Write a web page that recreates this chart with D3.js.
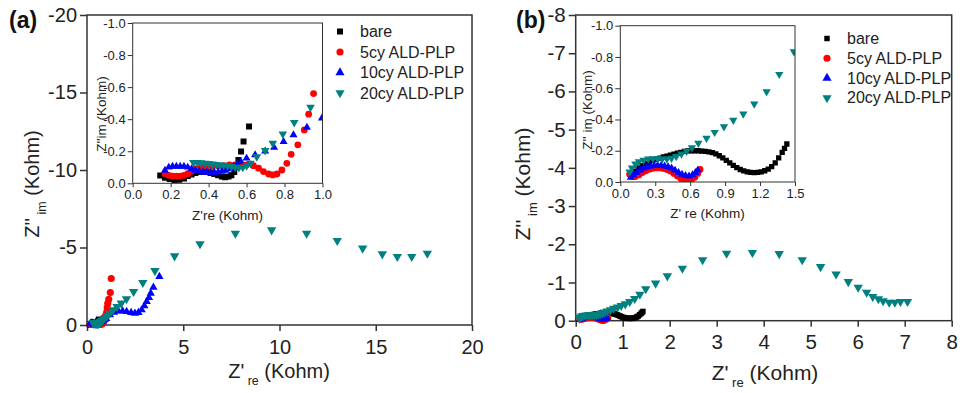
<!DOCTYPE html>
<html>
<head>
<meta charset="utf-8">
<script src="https://cdn.jsdelivr.net/npm/d3@7"></script>
<style>
body { margin: 0; background: #fff; }
svg { display: block; font-family: "Liberation Sans", Arial, sans-serif; }
</style>
</head>
<body>
<div id="app"></div>
<script>
// legend / series
const seriesNames = ['bare', '5cy ALD-PLP', '10cy ALD-PLP', '20cy ALD-PLP']
const seriesColors = ['#000000', '#ff0000', '#0000ff', '#008080']
const seriesShapes = ['square', 'circle', 'triangle', 'triangleDown']

// panel (a) data, [Z're, Z''im] in kohm
const a_bare = [[0.145,-0.048],[0.17,-0.035],[0.195,-0.027],[0.22,-0.02],[0.245,-0.022],[0.27,-0.03],[0.29,-0.045],[0.31,-0.055],[0.33,-0.065],[0.35,-0.07],[0.37,-0.072],[0.39,-0.07],[0.41,-0.065],[0.43,-0.058],[0.45,-0.05],[0.47,-0.042],[0.487,-0.038],[0.505,-0.042],[0.52,-0.05],[0.535,-0.07],[0.548,-0.1],[0.557,-0.146],[0.571,-0.198],[0.584,-0.26],[0.613,-0.354]]
const a_5cy = [[0.17,-0.06],[0.19,-0.05],[0.21,-0.045],[0.23,-0.045],[0.25,-0.045],[0.27,-0.05],[0.29,-0.06],[0.31,-0.075],[0.33,-0.09],[0.36,-0.1],[0.39,-0.105],[0.42,-0.105],[0.45,-0.11],[0.48,-0.11],[0.51,-0.115],[0.54,-0.115],[0.57,-0.115],[0.60,-0.115],[0.636,-0.11],[0.663,-0.094],[0.689,-0.073],[0.716,-0.058],[0.738,-0.052],[0.76,-0.058],[0.786,-0.083],[0.812,-0.125],[0.835,-0.181],[0.87,-0.24],[0.904,-0.333],[0.927,-0.431],[0.953,-0.56],[1.02,-0.82],[1.05,-1.12],[1.08,-1.4],[1.13,-1.66],[1.21,-2.09],[1.26,-3.0]]
const a_10cy = [[0.17,-0.08],[0.19,-0.1],[0.21,-0.105],[0.23,-0.105],[0.25,-0.105],[0.27,-0.105],[0.29,-0.1],[0.31,-0.09],[0.33,-0.08],[0.35,-0.075],[0.37,-0.07],[0.39,-0.068],[0.41,-0.068],[0.43,-0.068],[0.45,-0.07],[0.47,-0.075],[0.49,-0.08],[0.51,-0.09],[0.53,-0.105],[0.55,-0.12],[0.57,-0.135],[0.6,-0.156],[0.645,-0.177],[0.698,-0.2],[0.745,-0.223],[0.795,-0.26],[0.847,-0.302],[0.918,-0.348],[0.997,-0.406],[1.19,-0.65],[1.40,-0.82],[1.63,-0.9],[1.85,-0.9],[2.06,-0.86],[2.29,-0.8],[2.49,-0.75],[2.67,-0.8],[2.84,-0.97],[2.98,-1.23],[3.10,-1.51],[3.22,-1.76],[3.31,-2.04],[3.45,-2.43],[3.76,-3.12]]
const a_20cy = [[0.32,-0.13],[0.34,-0.13],[0.36,-0.128],[0.38,-0.125],[0.40,-0.123],[0.42,-0.12],[0.44,-0.118],[0.46,-0.115],[0.48,-0.113],[0.50,-0.11],[0.52,-0.105],[0.54,-0.1],[0.56,-0.098],[0.58,-0.1],[0.60,-0.11],[0.62,-0.125],[0.654,-0.166],[0.698,-0.204],[0.738,-0.25],[0.791,-0.308],[0.851,-0.379],[0.937,-0.474],[1.04,-0.58],[1.18,-0.75],[1.35,-0.97],[1.56,-1.18],[1.78,-1.40],[2.05,-1.68],[2.42,-2.15],[2.9,-2.73],[3.53,-3.5],[4.55,-4.45],[5.87,-5.23],[7.71,-5.91],[9.59,-6.13],[11.41,-5.91],[13.0,-5.44],[14.32,-4.95],[15.34,-4.58],[16.12,-4.41],[16.87,-4.41],[17.68,-4.62]]

// panel (b) data
const b_bare = [[0.10,-0.05],[0.13,-0.07],[0.16,-0.09],[0.19,-0.105],[0.22,-0.118],[0.25,-0.128],[0.28,-0.138],[0.31,-0.146],[0.34,-0.153],[0.37,-0.16],[0.40,-0.166],[0.43,-0.172],[0.46,-0.178],[0.49,-0.184],[0.52,-0.19],[0.55,-0.196],[0.58,-0.199],[0.61,-0.2],[0.64,-0.2],[0.67,-0.2],[0.70,-0.198],[0.73,-0.196],[0.76,-0.193],[0.79,-0.188],[0.82,-0.18],[0.85,-0.168],[0.88,-0.154],[0.91,-0.139],[0.94,-0.123],[0.97,-0.106],[1.00,-0.092],[1.03,-0.08],[1.06,-0.071],[1.09,-0.065],[1.12,-0.061],[1.15,-0.06],[1.18,-0.061],[1.21,-0.065],[1.24,-0.072],[1.27,-0.082],[1.30,-0.098],[1.33,-0.122],[1.36,-0.155],[1.39,-0.19],[1.41,-0.215],[1.43,-0.243]]
const b_5cy = [[0.08,-0.05],[0.1,-0.035],[0.13,-0.035],[0.16,-0.045],[0.19,-0.06],[0.22,-0.072],[0.25,-0.082],[0.28,-0.088],[0.31,-0.09],[0.34,-0.09],[0.37,-0.087],[0.40,-0.08],[0.43,-0.07],[0.46,-0.055],[0.49,-0.038],[0.52,-0.022],[0.55,-0.01],[0.58,-0.005],[0.61,-0.012],[0.64,-0.03],[0.665,-0.055],[0.685,-0.08]]
const b_10cy = [[0.09,-0.03],[0.11,-0.045],[0.14,-0.06],[0.17,-0.075],[0.2,-0.088],[0.23,-0.097],[0.26,-0.102],[0.29,-0.105],[0.32,-0.106],[0.35,-0.105],[0.38,-0.102],[0.41,-0.097],[0.44,-0.088],[0.47,-0.075],[0.50,-0.06],[0.53,-0.048],[0.56,-0.04],[0.59,-0.038],[0.62,-0.045],[0.645,-0.06],[0.665,-0.075]]
const b_20cy = [[0.08,-0.065],[0.1,-0.09],[0.13,-0.115],[0.16,-0.13],[0.2,-0.14],[0.24,-0.147],[0.28,-0.15],[0.32,-0.15],[0.36,-0.147],[0.40,-0.147],[0.44,-0.152],[0.48,-0.163],[0.525,-0.18],[0.57,-0.197],[0.615,-0.22],[0.67,-0.248],[0.74,-0.28],[0.81,-0.318],[0.89,-0.354],[0.97,-0.395],[1.056,-0.435],[1.15,-0.499],[1.256,-0.578],[1.365,-0.689],[1.49,-0.834],[1.70,-0.98],[1.95,-1.17],[2.27,-1.37],[2.70,-1.59],[3.21,-1.76],[3.76,-1.78],[4.33,-1.75],[4.82,-1.59],[5.21,-1.41],[5.54,-1.22],[5.80,-1.02],[6.01,-0.87],[6.19,-0.74],[6.32,-0.63],[6.44,-0.57],[6.54,-0.52],[6.67,-0.48],[6.79,-0.48],[6.91,-0.50],[7.06,-0.50]]

// ticks
const a_xTicks = [0, 5, 10, 15, 20]
const a_yTicks = [0, -5, -10, -15, -20]
const b_xTicks = [0, 1, 2, 3, 4, 5, 6, 7, 8]
const b_yTicks = [0, -1, -2, -3, -4, -5, -6, -7, -8]
const a_inXTicks = [0, 0.2, 0.4, 0.6, 0.8, 1.0]
const b_inXTicks = [0, 0.3, 0.6, 0.9, 1.2, 1.5]
const inYTicks = [0, -0.2, -0.4, -0.6, -0.8, -1.0]

const svg = d3.select('#app').append('svg').attr('width', 962).attr('height', 393)
const defs = svg.append('defs')

const symbolType = {
	square: d3.symbolSquare,
	circle: d3.symbolCircle,
	triangle: d3.symbolTriangle,
	triangleDown: d3.symbolTriangle
}

function drawMarker(sel, shape, color, size) {
	sel.attr('d', d3.symbol().type(symbolType[shape]).size(size[shape]))
		.attr('fill', color)
}

function drawPoints(g, data, x, y, i, size) {
	const shape = seriesShapes[i]
	g.append('g').selectAll('path').data(data).enter().append('path')
		.attr('transform', d => `translate(${x(d[0])},${y(d[1])})` + (shape === 'triangleDown' ? ' rotate(180)' : ''))
		.call(drawMarker, shape, seriesColors[i], size)
}

function axes(g, x, y, o) {
	g.append('g').attr('transform', `translate(0,${o.bottom})`)
		.call(d3.axisBottom(x).tickValues(o.xTicks).tickFormat(o.xFmt).tickSize(o.tick).tickPadding(o.xPad).tickSizeOuter(0))
		.call(s => s.select('.domain').remove())
		.call(s => s.selectAll('line').attr('stroke', '#333').attr('stroke-width', o.sw))
		.call(s => s.selectAll('text').attr('font-size', o.font).attr('fill', '#222').style('font-family', 'Liberation Sans, Arial, sans-serif'))
	g.append('g').attr('transform', `translate(${o.left},0)`)
		.call(d3.axisLeft(y).tickValues(o.yTicks).tickFormat(o.yFmt).tickSize(o.tick + 1).tickPadding(o.yPad).tickSizeOuter(0))
		.call(s => s.select('.domain').remove())
		.call(s => s.selectAll('line').attr('stroke', '#333').attr('stroke-width', o.sw))
		.call(s => s.selectAll('text').attr('font-size', o.font).attr('fill', '#222').style('font-family', 'Liberation Sans, Arial, sans-serif'))
	g.append('rect')
		.attr('x', o.left).attr('y', o.top)
		.attr('width', o.right - o.left).attr('height', o.bottom - o.top)
		.attr('fill', 'none').attr('stroke', '#333').attr('stroke-width', o.sw)
}

function subText(g, x, y, parts, size, rot) {
	const t = g.append('text')
		.attr('transform', `translate(${x},${y})` + (rot ? ' rotate(-90)' : ''))
		.attr('text-anchor', 'middle')
		.attr('font-size', size)
		.attr('fill', '#222')
	parts.forEach(p => {
		const ts = t.append('tspan').text(p[0])
		if (p[1]) ts.attr('font-size', size * 0.62).attr('dy', size * 0.35)
		else if (p[2]) ts.attr('dy', -size * 0.35)
	})
}

function drawPanel(p) {
	const g = svg.append('g')
	const x = d3.scaleLinear().domain(p.xDomain).range([p.main.left, p.main.right])
	const y = d3.scaleLinear().domain(p.yDomain).range([p.main.bottom, p.main.top])
	axes(g, x, y, Object.assign({}, p.main, {
		xTicks: p.xTicks, yTicks: p.yTicks, xFmt: d => String(d), yFmt: d => String(d), tick: 6, sw: 1.5, font: p.mainFont
	}))
	p.series.forEach((d, i) => drawPoints(g, d, x, y, i, p.mainSize))

	// inset
	const ins = p.inset
	const ix = d3.scaleLinear().domain(p.inXDomain).range([ins.left, ins.right])
	const iy = d3.scaleLinear().domain([0, -1]).range([ins.bottom, ins.top])
	g.append('rect').attr('x', ins.left).attr('y', ins.top)
		.attr('width', ins.right - ins.left).attr('height', ins.bottom - ins.top).attr('fill', '#fff')
	defs.append('clipPath').attr('id', 'clip-' + p.id).append('rect')
		.attr('x', ins.left).attr('y', ins.top)
		.attr('width', ins.right - ins.left).attr('height', ins.bottom - ins.top)
	const ig = g.append('g').attr('clip-path', `url(#clip-${p.id})`)
	p.series.forEach((d, i) => drawPoints(ig, d, ix, iy, i, p.inSize))
	axes(g, ix, iy, Object.assign({}, ins, {
		xTicks: p.inXTicks, yTicks: inYTicks, xFmt: d => d.toFixed(1), yFmt: d => d.toFixed(1), tick: 4, sw: 1, font: 13
	}))

	// legend
	seriesNames.forEach((name, i) => {
		const ly = p.legend.y + i * p.legend.dy
		g.append('path')
			.attr('transform', `translate(${p.legend.x},${ly})` + (seriesShapes[i] === 'triangleDown' ? ' rotate(180)' : ''))
			.call(drawMarker, seriesShapes[i], seriesColors[i], p.legendSize)
		g.append('text').attr('x', p.legend.x + 20).attr('y', ly + 5.5)
			.attr('font-size', 16).attr('fill', '#222').text(name)
	})

	// titles
	subText(g, p.xTitle[0], p.xTitle[1], [["Z'"], [' re', true], [' (Kohm)', false, true]], p.titleFont, false)
	subText(g, p.yTitle[0], p.yTitle[1], [["Z''"], [' im', true], [' (Kohm)', false, true]], p.titleFont, true)
	subText(g, p.inXTitle[0], p.inXTitle[1], [[p.inXLabel]], 13.5, false)
	subText(g, p.inYTitle[0], p.inYTitle[1], [[p.inYLabel]], 13.5, true)
	g.append('text').attr('x', p.tag[0]).attr('y', p.tag[1])
		.attr('font-size', 23).attr('font-weight', 'bold').attr('fill', '#111').text(p.tagText)
}

drawPanel({
	id: 'a', tagText: '(a)', tag: [9, 28],
	main: { left: 87, right: 472, top: 15, bottom: 325, xPad: 9, yPad: 3 },
	inset: { left: 132.7, right: 322.5, top: 23, bottom: 183.3, xPad: 2, yPad: 2 },
	xDomain: [0, 20], yDomain: [0, -20], xTicks: a_xTicks, yTicks: a_yTicks,
	inXDomain: [0, 1], inXTicks: a_inXTicks,
	series: [a_bare, a_5cy, a_10cy, a_20cy],
	mainFont: 20, titleFont: 20,
	mainSize: { square: 36, circle: 40, triangle: 30, triangleDown: 38 },
	inSize: { square: 36, circle: 36, triangle: 28, triangleDown: 32 },
	legendSize: { square: 36, circle: 40, triangle: 36, triangleDown: 36 },
	legend: { x: 340, y: 31.5, dy: 20.5 },
	xTitle: [279, 378], yTitle: [39, 184],
	inXTitle: [227.5, 220], inYTitle: [106, 114],
	inXLabel: "Z're (Kohm)", inYLabel: "Z''im (Kohm)"
})

drawPanel({
	id: 'b', tagText: '(b)', tag: [516, 28],
	main: { left: 575.7, right: 951.7, top: 15, bottom: 320.7, xPad: 8, yPad: 3 },
	inset: { left: 620.3, right: 795, top: 25.7, bottom: 182, xPad: 3, yPad: 2 },
	xDomain: [0, 8], yDomain: [0, -8], xTicks: b_xTicks, yTicks: b_yTicks,
	inXDomain: [0, 1.5], inXTicks: b_inXTicks,
	series: [b_bare, b_5cy, b_10cy, b_20cy],
	mainFont: 20.5, titleFont: 21,
	mainSize: { square: 30, circle: 36, triangle: 28, triangleDown: 38 },
	inSize: { square: 28, circle: 36, triangle: 28, triangleDown: 30 },
	legendSize: { square: 30, circle: 40, triangle: 36, triangleDown: 36 },
	legend: { x: 827, y: 38.5, dy: 19.8 },
	xTitle: [765, 380], yTitle: [530, 184],
	inXTitle: [707.5, 218], inYTitle: [592, 110],
	inXLabel: "Z' re (Kohm)", inYLabel: "Z'' im (Kohm)"
})
</script>
</body>
</html>
